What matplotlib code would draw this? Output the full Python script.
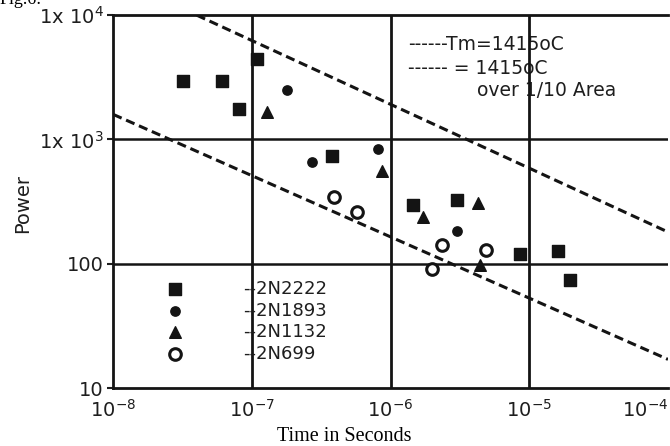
import numpy as np
import matplotlib.pyplot as plt
from matplotlib.ticker import NullLocator

plt.rcParams['font.family'] = ['DejaVu Sans']
plt.rcParams['mathtext.default'] = 'regular'

# 数据
t_2n2222 = [3.2e-8, 6.1e-8, 1.08e-7, 8.1e-8, 3.8e-7, 1.45e-6, 3.0e-6, 8.5e-6, 1.6e-5, 1.97e-5]
p_2n2222 = [2950, 2950, 4450, 1770, 730, 297, 325, 120, 127, 74]

t_2n1893 = [1.79e-7, 2.7e-7, 8.1e-7, 3.0e-6]
p_2n1893 = [2500, 655, 832, 184]

t_2n1132 = [1.29e-7, 8.65e-7, 1.7e-6, 4.26e-6, 4.4e-6]
p_2n1132 = [1675, 555, 238, 308, 98]

t_2n699 = [3.93e-7, 5.7e-7, 2.35e-6, 4.84e-6, 2.0e-6]
p_2n699 = [344, 261, 142, 129, 91]

# 两条虚线 Tm=1415oC
upper_t = [4.0e-8, 1e-4]
upper_p = [1e4, 180]
lower_t = [1e-8, 1e-4]
lower_p = [1590, 17]

x_ticks = [1e-8, 1e-7, 1e-6, 1e-5, 1e-4]
x_labels = [r'$10^{-8}$', r'$10^{-7}$', r'$10^{-6}$', r'$10^{-5}$', r'$10^{-4}$']
y_ticks = [10, 100, 1e3, 1e4]
y_labels = ['10', '100', r'1x $10^3$', r'1x $10^4$']

fig = plt.figure(figsize=(6.7, 4.46), dpi=100, facecolor='white')
ax = fig.add_axes([0.169, 0.130, 0.828, 0.836])
ax.set_xscale('log')
ax.set_yscale('log')
ax.set_xlim(1e-8, 1e-4)
ax.set_ylim(10, 1e4)

ink = '#141414'
txt = '#1e1e1e'

# 网格线
for t in x_ticks[1:-1]:
    ax.axvline(t, color=ink, lw=2.0, zorder=3)
for p in y_ticks[1:-1]:
    ax.axhline(p, color=ink, lw=1.8, zorder=3)

# 虚线
ax.plot(upper_t, upper_p, color=ink, lw=2.2, ls=(0, (3, 1.6)), zorder=2)
ax.plot(lower_t, lower_p, color=ink, lw=2.2, ls=(0, (3, 1.6)), zorder=2)

# 数据点
h1 = ax.scatter(t_2n2222, p_2n2222, marker='s', s=70, color=ink, zorder=4)
h2 = ax.scatter(t_2n1893, p_2n1893, marker='o', s=45, color=ink, zorder=4)
h3 = ax.scatter(t_2n1132, p_2n1132, marker='^', s=70, color=ink, zorder=4)
h4 = ax.scatter(t_2n699, p_2n699, marker='o', s=70, facecolor='white',
                edgecolor=ink, linewidths=2.2, zorder=4)

leg = ax.legend([h1, h2, h3, h4], ['--2N2222', '--2N1893', '--2N1132', '--2N699'],
                loc='upper left', bbox_to_anchor=(0.095, 0.29), frameon=False,
                fontsize=13, handlelength=1.0, handletextpad=3.3, labelspacing=0.2,
                borderpad=0, borderaxespad=0)
for t in leg.get_texts():
    t.set_color(txt)

# 右上角说明文字
ax.text(0.532, 0.92, '------Tm=1415oC', transform=ax.transAxes, fontsize=13.5,
        va='center', ha='left', zorder=1, color=txt)
ax.text(0.532, 0.858, '------ = 1415oC', transform=ax.transAxes, fontsize=13.5,
        va='center', ha='left', zorder=1, color=txt)
ax.text(0.655, 0.799, 'over 1/10 Area', transform=ax.transAxes, fontsize=13.5,
        va='center', ha='left', zorder=1, color=txt)

# 坐标轴
ax.set_xticks(x_ticks, x_labels)
ax.set_yticks(y_ticks, y_labels)
ax.xaxis.set_minor_locator(NullLocator())
ax.yaxis.set_minor_locator(NullLocator())
ax.get_xticklabels()[-1].set_horizontalalignment('right')
ax.tick_params(axis='x', length=0, labelsize=14, pad=8, colors=txt)
ax.tick_params(axis='y', length=4, width=1.5, labelsize=14, pad=3, colors=txt)
for side in ['left', 'bottom', 'top']:
    ax.spines[side].set_linewidth(2.0)
    ax.spines[side].set_color(ink)
ax.spines['right'].set_visible(False)

ax.set_ylabel('Power', fontsize=14, color=txt)
ax.yaxis.set_label_coords(-0.146, 0.495)
ax.set_xlabel('Time in Seconds', fontsize=14.5, family=['Liberation Serif'])
ax.xaxis.set_label_coords(0.416, -0.105)

fig.text(0.0, 1.0, 'Fig.6:', fontsize=13, family=['Liberation Serif'],
         va='center', ha='left')

fig.savefig('out.png', dpi=100, facecolor='white')
